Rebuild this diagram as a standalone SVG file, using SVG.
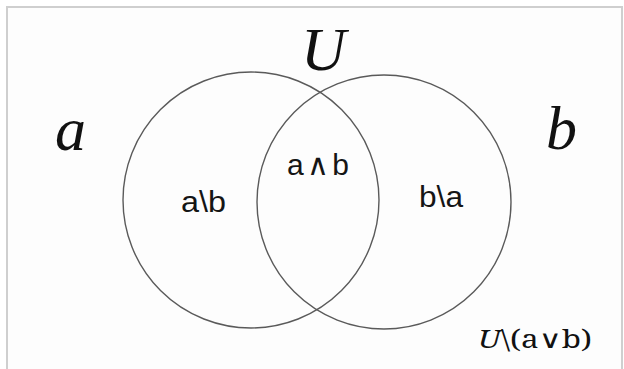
<svg xmlns="http://www.w3.org/2000/svg" width="624" height="369" viewBox="0 0 624 369">
<style>
.set{fill:none;stroke:#5a5a5a;stroke-width:1.4}
.big{font-family:"Liberation Serif",serif;font-style:italic;font-size:62px;fill:#111}
.lab{font-family:"Liberation Sans",Arial,sans-serif;font-size:30px;fill:#151515}
.cmp{font-family:"Noto Serif","DejaVu Serif","Liberation Serif",serif;font-size:25px;fill:#111}
</style>
<rect x="0" y="0" width="624" height="369" fill="#fff"/>
<rect x="7" y="7" width="615" height="370" fill="#fdfdfd" stroke="#cfcfcf" stroke-width="2"/>
<g id="setA">
<circle class="set" cx="251" cy="200" r="128"/>
<text class="big" x="55" y="150">a</text>
<text class="lab" x="181" y="212" textLength="45" lengthAdjust="spacingAndGlyphs">a\b</text>
</g>
<g id="setB">
<circle class="set" cx="384" cy="202" r="127"/>
<text class="big" x="546" y="149">b</text>
<text class="lab" x="419" y="207" textLength="44" lengthAdjust="spacingAndGlyphs">b\a</text>
</g>
<g id="intersection">
<text class="lab" x="287" y="175" textLength="62">a∧b</text>
</g>
<g id="universe">
<text class="big" x="301" y="70">U</text>
<text class="cmp" x="478" y="348" textLength="114" lengthAdjust="spacingAndGlyphs"><tspan font-style="italic">U</tspan>\(a∨b)</text>
</g>
<g id="connectors"></g>
</svg>
